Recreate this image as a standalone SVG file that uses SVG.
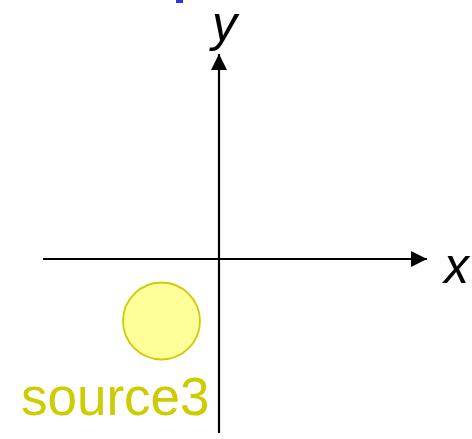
<svg xmlns="http://www.w3.org/2000/svg" width="472" height="439" viewBox="0 0 472 439">
<style>
.axis{stroke:#000;stroke-width:2.2;fill:none}
.lbl{font-family:"Liberation Sans",Arial,sans-serif;font-style:italic;font-size:50px;fill:#000}
</style>
<defs>
<marker id="arr" viewBox="0 0 16 16" refX="16" refY="8" markerWidth="16" markerHeight="16" markerUnits="userSpaceOnUse" orient="auto">
<path d="M0,0 L16,8 L0,16 Z" fill="#000"/>
</marker>
</defs>
<rect x="176" y="0" width="7" height="3" fill="#3333dd"/>
<g id="connectors">
<line class="axis" x1="43" y1="259" x2="427" y2="259" marker-end="url(#arr)"/>
<line class="axis" x1="219" y1="433" x2="219" y2="54" marker-end="url(#arr)"/>
</g>
<g id="label-x"><text class="lbl" x="444" y="283">x</text></g>
<g id="label-y"><text class="lbl" x="212" y="41">y</text></g>
<g id="source3">
<circle cx="161.5" cy="321" r="38.5" fill="#FFFF99" stroke="#CCCC00" stroke-width="1.8"/>
<text x="21" y="415" font-family="Liberation Sans,Arial,sans-serif" font-size="53" fill="#CCCC00">source3</text>
</g>
</svg>
